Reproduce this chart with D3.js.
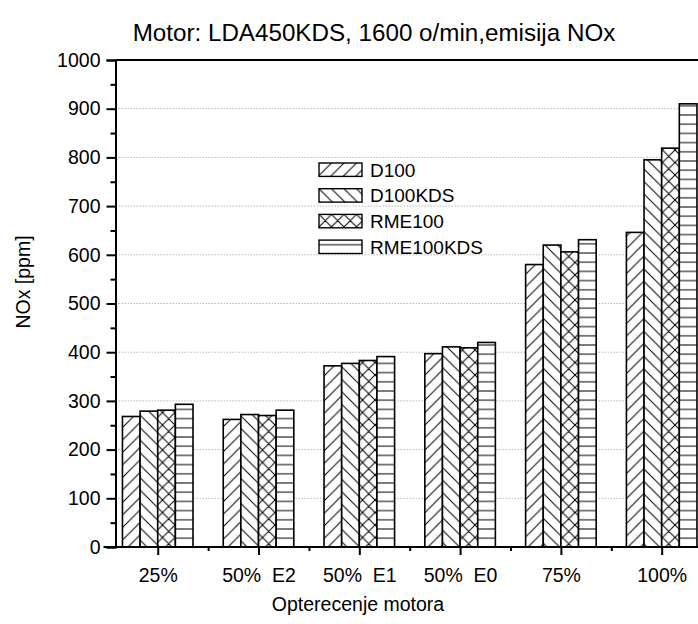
<!DOCTYPE html>
<html>
<head>
<meta charset="utf-8">
<script src="https://cdn.jsdelivr.net/npm/d3@7"></script>
<style>
  html, body { margin: 0; padding: 0; background: #fff; }
  svg { display: block; }
  text { font-family: "Liberation Sans", Arial, sans-serif; fill: #000; }
</style>
</head>
<body>
<svg id="chart" width="698" height="624"></svg>
<script>
// Engine load regimes (x categories)
const categories = ["25%", "50%  E2", "50%  E1", "50%  E0", "75%", "100%"];
// Fuel series
const seriesNames = ["D100", "D100KDS", "RME100", "RME100KDS"];
// NOx emission [ppm] per series, one value per load regime
const d100      = [268, 262, 372, 397, 580, 646];
const d100kds   = [279, 272, 377, 411, 620, 795];
const rme100    = [281, 270, 383, 409, 606, 819];
const rme100kds = [293, 281, 391, 420, 631, 910];
const seriesValues = [d100, d100kds, rme100, rme100kds];
// Y axis ticks
const yMajorTicks = [0, 100, 200, 300, 400, 500, 600, 700, 800, 900, 1000];
const yMinorTicks = [50, 150, 250, 350, 450, 550, 650, 750, 850, 950];

const svg = d3.select("#chart");
const W = 698, H = 624;
const plotLeft = 115.5, plotTop = 60, plotBottom = 547;

// Category positions: index 1..6 mapped linearly, plot runs past right edge
const x = d3.scaleLinear().domain([0.581, 6.40]).range([plotLeft, 702]);
const y = d3.scaleLinear().domain([0, 1000]).range([plotBottom, plotTop]);
const groupWidth = (x(2) - x(1)) * 0.7;
const inner = d3.scaleBand().domain(seriesNames).range([-groupWidth / 2, groupWidth / 2]).padding(0);

// Hatch patterns
const defs = svg.append("defs");
const P = 12.5;
function pattern(id, w, h, d) {
  const p = defs.append("pattern").attr("id", id)
    .attr("patternUnits", "userSpaceOnUse").attr("width", w).attr("height", h);
  p.append("rect").attr("width", w).attr("height", h).attr("fill", "#fff");
  p.append("path").attr("d", d).attr("stroke", "#000").attr("stroke-width", 1).attr("fill", "none");
}
const fwd = `M0,${P} L${P},0 M${-P/4},${P/4} L${P/4},${-P/4} M${P*3/4},${P*5/4} L${P*5/4},${P*3/4}`;
const bwd = `M0,0 L${P},${P} M${-P/4},${P*3/4} L${P/4},${P*5/4} M${P*3/4},${-P/4} L${P*5/4},${P/4}`;
pattern("p0", P, P, fwd);
pattern("p1", P, P, bwd);
pattern("p2", P, P, fwd + " " + bwd);
pattern("p3", 10, 9.2, "M0,4.6 L10,4.6");
const fills = ["url(#p0)", "url(#p1)", "url(#p2)", "url(#p3)"];

// Dotted gridlines
svg.append("g").selectAll("line")
  .data(yMajorTicks.filter(v => v > 0 && v < 1000))
  .join("line")
  .attr("x1", plotLeft).attr("x2", W)
  .attr("y1", d => y(d)).attr("y2", d => y(d))
  .attr("stroke", "#b8b8b8").attr("stroke-width", 1)
  .attr("stroke-dasharray", "1.5,1.5");

// Bars
const bars = svg.append("g");
seriesNames.forEach((name, s) => {
  bars.append("g").selectAll("rect")
    .data(seriesValues[s])
    .join("rect")
    .attr("x", (d, i) => x(i + 1) + inner(name))
    .attr("width", inner.bandwidth())
    .attr("y", d => y(d))
    .attr("height", d => y(0) - y(d))
    .attr("fill", fills[s])
    .attr("stroke", "#000")
    .attr("stroke-width", 1.6);
});

// Top frame line
svg.append("line").attr("x1", plotLeft).attr("x2", W).attr("y1", plotTop).attr("y2", plotTop)
  .attr("stroke", "#000").attr("stroke-width", 2);

// Y axis
const yAxis = d3.axisLeft(y).tickValues(yMajorTicks).tickSize(9).tickPadding(6).tickFormat(d3.format("d"));
const gy = svg.append("g").attr("transform", `translate(${plotLeft},0)`).call(yAxis);
gy.attr("font-family", null).attr("font-size", null);
gy.select(".domain").attr("stroke-width", 2);
gy.selectAll(".tick line").attr("stroke-width", 2);
gy.selectAll(".tick text").style("font-size", "19.5px");
const gyMinor = svg.append("g").attr("transform", `translate(${plotLeft},0)`)
  .call(d3.axisLeft(y).tickValues(yMinorTicks).tickSize(5).tickFormat(""));
gyMinor.select(".domain").remove();
gyMinor.selectAll(".tick line").attr("stroke-width", 2);

// X axis
const xTickPos = categories.map((c, i) => i + 1);
const xAxis = d3.axisBottom(x).tickValues(xTickPos).tickSize(8).tickPadding(13)
  .tickFormat((d, i) => categories[i]);
const gx = svg.append("g").attr("transform", `translate(0,${plotBottom})`).call(xAxis);
gx.attr("font-family", null).attr("font-size", null);
gx.select(".domain").attr("d", `M${plotLeft - 12},0H${W}`).attr("stroke-width", 2);
gx.selectAll(".tick line").attr("stroke-width", 2);
gx.selectAll(".tick text").style("font-size", "19.5px").style("white-space", "pre");
const gxMinor = svg.append("g").attr("transform", `translate(0,${plotBottom})`)
  .call(d3.axisBottom(x).tickValues(xTickPos.slice(0, -1).map(v => v + 0.5)).tickSize(4).tickFormat(""));
gxMinor.select(".domain").remove();
gxMinor.selectAll(".tick line").attr("stroke-width", 2);

// Titles
svg.append("text").attr("x", 374).attr("y", 41).attr("text-anchor", "middle")
  .style("font-size", "24.2px").text("Motor: LDA450KDS, 1600 o/min,emisija NOx");
svg.append("text").attr("x", 358).attr("y", 611).attr("text-anchor", "middle")
  .style("font-size", "19.5px").text("Opterecenje motora");
svg.append("text").attr("transform", "translate(30,282) rotate(-90)").attr("text-anchor", "middle")
  .style("font-size", "19.5px").text("NOx [ppm]");

// Legend
const legend = svg.append("g").attr("transform", "translate(319,163)");
seriesNames.forEach((name, s) => {
  const g = legend.append("g").attr("transform", `translate(0,${s * 25.7})`);
  g.append("rect").attr("width", 43).attr("height", 13.4)
    .attr("fill", fills[s]).attr("stroke", "#000").attr("stroke-width", 1.4);
  g.append("text").attr("x", 51).attr("y", 13.5).style("font-size", "19px").text(name);
});
</script>
</body>
</html>
